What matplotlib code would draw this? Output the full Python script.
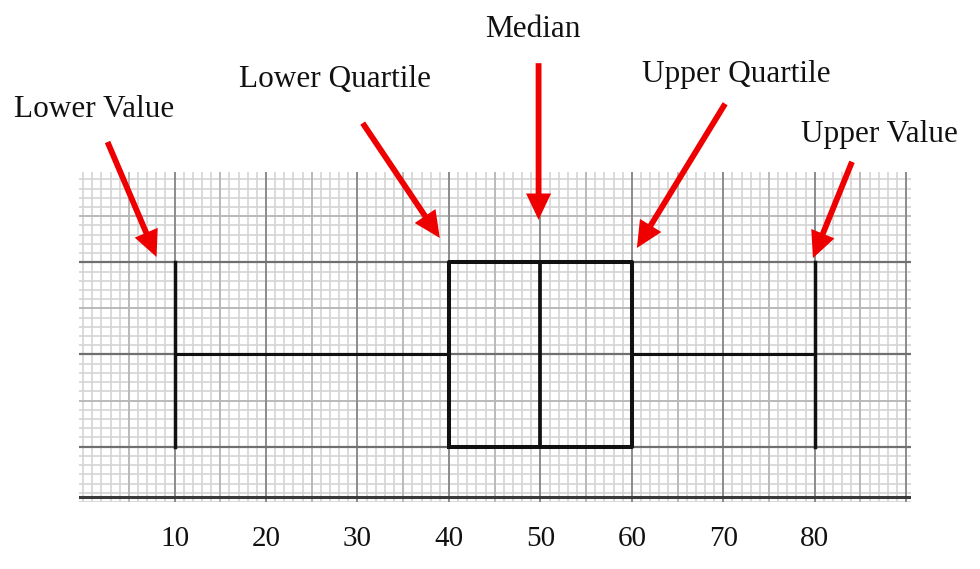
import numpy as np
import matplotlib
matplotlib.use("Agg")
import matplotlib.pyplot as plt

# five number summary shown on the graph paper
lower_value = 10
lower_quartile = 40
median = 50
upper_quartile = 60
upper_value = 80

tick_values = [10, 20, 30, 40, 50, 60, 70, 80]
tick_labels = ["10", "20", "30", "40", "50", "60", "70", "80"]

labels = ["Lower Value", "Lower Quartile", "Median", "Upper Quartile", "Upper Value"]

# layout of the annotations (text position, arrow start, arrow tip) in data units
text_pos = [(1.25, 40.75), (27.5, 44.0), (49.2, 49.4), (71.4, 44.6), (87.1, 38.0)]
arrow_start = [(2.67, 38.05), (30.57, 40.1), (49.8, 46.6), (70.2, 42.2), (84.07, 35.9)]
arrow_tip = [(8.03, 25.57), (39.0, 27.64), (49.8, 29.6), (60.55, 26.55), (79.8, 25.45)]

BOX_Y = 15
BOX_H = 20
BASE_Y = -0.45
XMIN, XMAX = -0.45, 90.5
YMIN, YMAX = -1.0, 34.8

serif = ["Liberation Serif", "DejaVu Serif"]

fig = plt.figure(figsize=(9.8, 5.69), dpi=100)
ax = fig.add_axes([79 / 980, 0.1178, 831.8 / 980, 0.58])
ax.set_xlim(XMIN, XMAX)
ax.set_ylim(YMIN, YMAX)
ax.set_frame_on(False)

# graph paper: fine lines every 1, medium every 5, heavy every 10
xs = np.arange(0, 91)
ys = np.arange(-1, 35)
ax.vlines(xs, YMIN, YMAX, color="#d4d4d4", lw=1.2, zorder=1)
ax.hlines(ys, XMIN, XMAX, color="#d4d4d4", lw=1.2, zorder=1)
ax.vlines(xs[xs % 10 == 5], YMIN, YMAX, color="#b8b8b8", lw=1.3, zorder=2)
ax.hlines([10, 20, 30], XMIN, XMAX, color="#b8b8b8", lw=1.3, zorder=2)
ax.vlines(xs[(xs % 10 == 0) & (xs > 0)], YMIN, YMAX, color="#8c8c8c", lw=1.4, zorder=3)
ax.hlines([5, 15, 25], XMIN, XMAX, color="#707070", lw=1.6, zorder=3)
ax.axhline(BASE_Y, color="#3a3a3a", lw=2.2, zorder=4)

stats = [{"whislo": lower_value, "q1": lower_quartile, "med": median,
          "q3": upper_quartile, "whishi": upper_value, "fliers": []}]
ax.bxp(stats, positions=[BOX_Y], widths=BOX_H, capwidths=[BOX_H],
       orientation="horizontal", showfliers=False, manage_ticks=False,
       boxprops=dict(color="#111111", lw=2.9),
       medianprops=dict(color="#111111", lw=2.7),
       whiskerprops=dict(color="#111111", lw=2.2),
       capprops=dict(color="#111111", lw=2.5),
       zorder=5)

for lab, tp, st, tip in zip(labels, text_pos, arrow_start, arrow_tip):
    ax.text(tp[0], tp[1], lab, ha="center", va="baseline", fontsize=22.5,
            family=serif, color="#111111", clip_on=False)
    ax.annotate("", xy=tip, xytext=st, annotation_clip=False,
                arrowprops=dict(arrowstyle="simple,head_length=1.9,head_width=1.8,tail_width=0.42",
                                mutation_scale=10, color="#ee0000", lw=0,
                                shrinkA=0, shrinkB=0))

ax.set_xticks(tick_values)
ax.set_xticklabels(tick_labels, fontsize=21, family=serif, color="#111111")
ax.set_yticks([])
ax.tick_params(axis="x", length=0, pad=17)

fig.savefig("out.png", dpi=100)
